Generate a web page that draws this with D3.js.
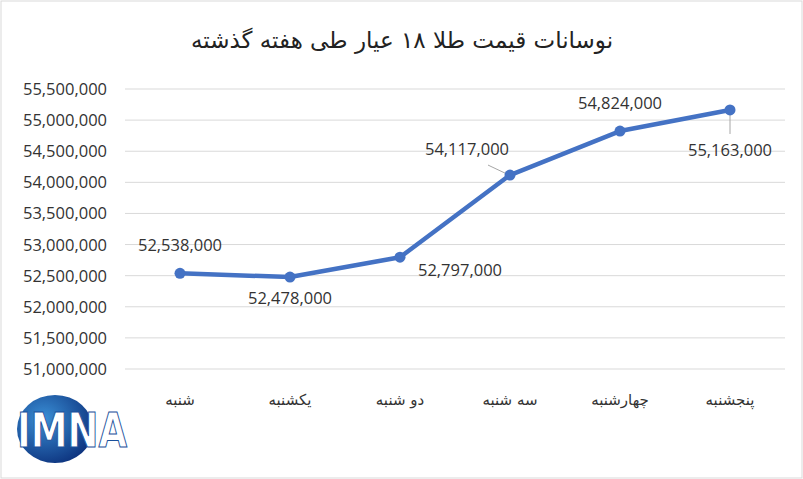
<!DOCTYPE html><html><head><meta charset="utf-8"><script src="https://cdn.jsdelivr.net/npm/d3@7"></script>
<style>body{margin:0;background:#fff}</style></head><body><svg id="c" width="803" height="479"></svg>
<script>
const categories=["شنبه","یکشنبه","دو شنبه","سه شنبه","چهارشنبه","پنجشنبه"];
const values=[52538000,52478000,52797000,54117000,54824000,55163000];
const yTicks=[51000000,51500000,52000000,52500000,53000000,53500000,54000000,54500000,55000000,55500000];
const labelOffsets=[[0,-28],[0,21],[60,13],[-43,-26],[0,-28],[0,40]];
const svg=d3.select("#c");
const font="'Open Sans', sans-serif";
svg.append("rect").attr("x",1).attr("y",1).attr("width",801).attr("height",477).attr("fill","#fff").attr("stroke","#d9d9d9");
svg.append("text").attr("x",402).attr("y",48).attr("text-anchor","middle").attr("font-family","'DejaVu Sans', 'Noto Sans', sans-serif").attr("font-size",23).attr("fill","#222").text("نوسانات قیمت طلا ۱۸ عیار طی هفته گذشته");
const x=d3.scaleBand().domain(categories).range([125,785]);
const y=d3.scaleLinear().domain([51000000,55500000]).range([369,89]);
svg.append("g").selectAll("line").data(yTicks).join("line").attr("x1",125).attr("x2",785).attr("y1",d=>y(d)).attr("y2",d=>y(d)).attr("stroke","#d9d9d9");
svg.append("g").selectAll("text").data(yTicks).join("text").attr("x",107).attr("y",d=>y(d)+6).attr("text-anchor","end").attr("font-family",font).attr("font-size",16.5).attr("fill","#333").text(d3.format(","));
svg.append("g").selectAll("text").data(categories).join("text").attr("x",d=>x(d)+x.bandwidth()/2).attr("y",405).attr("text-anchor","middle").attr("font-family","'DejaVu Sans', sans-serif").attr("font-size",15).attr("fill","#333").text(d=>d);
const cx=(d,i)=>x(categories[i])+x.bandwidth()/2;
svg.append("path").datum(values).attr("fill","none").attr("stroke","#4472c4").attr("stroke-width",4.5).attr("stroke-linejoin","round").attr("d",d3.line().x((d,i)=>cx(d,i)).y(d=>y(d)));
[[3,[-22,-10],[-3,-1]],[5,[0,24],[0,4]]].forEach(([i,a,b])=>{
 svg.append("line").attr("x1",cx(0,i)+a[0]).attr("y1",y(values[i])+a[1]).attr("x2",cx(0,i)+b[0]).attr("y2",y(values[i])+b[1]).attr("stroke","#a6a6a6");});
svg.append("g").selectAll("circle").data(values).join("circle").attr("cx",cx).attr("cy",d=>y(d)).attr("r",5.5).attr("fill","#4472c4");
svg.append("g").selectAll("text").data(values).join("text").attr("x",(d,i)=>cx(d,i)+labelOffsets[i][0]).attr("y",(d,i)=>y(d)+labelOffsets[i][1]+6).attr("text-anchor","middle").attr("font-family",font).attr("font-size",16.5).attr("fill","#333").text(d3.format(","));
const g=svg.append("defs").append("radialGradient").attr("id","lg").attr("cx","35%").attr("cy","35%").attr("r","75%");
g.append("stop").attr("offset","0%").attr("stop-color","#3a8fd6");g.append("stop").attr("offset","100%").attr("stop-color","#0b2f7a");
svg.append("ellipse").attr("cx",55).attr("cy",429).attr("rx",38).attr("ry",34).attr("fill","url(#lg)");
svg.append("text").attr("x",72).attr("y",447).attr("text-anchor","middle").attr("font-family","'DejaVu Sans Condensed','Liberation Sans Narrow',sans-serif").attr("font-weight","bold").attr("font-size",48).attr("textLength",110).attr("lengthAdjust","spacingAndGlyphs").attr("fill","#fff").attr("stroke","#1a4f9a").attr("stroke-width",1).text("IMNA");
</script></body></html>
